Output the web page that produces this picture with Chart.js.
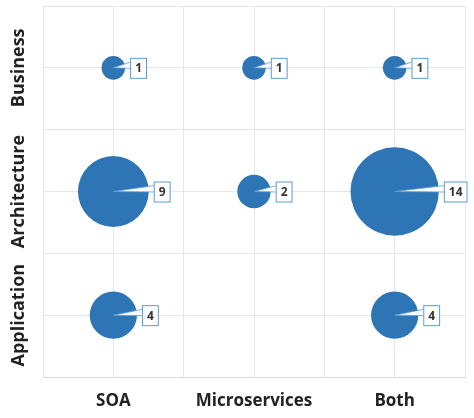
<!DOCTYPE html>
<html>
<head>
<meta charset="utf-8">
<script src="https://cdn.jsdelivr.net/npm/chart.js@4"></script>
<style>
  html, body { margin: 0; padding: 0; background: #fff; }
  #wrap { width: 474px; height: 418px; }
</style>
</head>
<body>
<div id="wrap"><canvas id="chart"></canvas></div>
<script>
"use strict";

// categories
var xLabels = ["SOA", "Microservices", "Both"];
var yLabels = ["Application", "Architecture", "Business"];

// counts per x category, in yLabels order
var soaCounts = [4, 9, 1];
var microCounts = [null, 2, 1];
var bothCounts = [4, 14, 1];

var allCounts = [soaCounts, microCounts, bothCounts];

var blue = "#2E75B6";
var labelFont = "'Open Sans', sans-serif";

// category i sits at scale position 2*i+1
function catPos(i) { return 2 * i + 1; }

var points = [];
for (var i = 0; i < xLabels.length; i++) {
	for (var j = 0; j < yLabels.length; j++) {
		var v = allCounts[i][j];
		if (v === null) continue;
		points.push({ x: catPos(i), y: catPos(j), r: 11.8 * Math.sqrt(v), v: v });
	}
}

var axisLabelPlugin = {
	id: "axisLabels",
	afterDraw: function(chart) {
		var ctx = chart.ctx;
		var xScale = chart.scales.x;
		var yScale = chart.scales.y;
		ctx.save();
		ctx.fillStyle = "#222";
		ctx.textAlign = "center";
		ctx.textBaseline = "middle";

		ctx.font = "bold 18px " + labelFont;
		for (var j = 0; j < yLabels.length; j++) {
			var py = yScale.getPixelForValue(catPos(j));
			ctx.save();
			ctx.translate(19, py);
			ctx.rotate(-Math.PI / 2);
			ctx.fillText(yLabels[j], 0, 0);
			ctx.restore();
		}

		ctx.font = "bold 17px " + labelFont;
		for (var i = 0; i < xLabels.length; i++) {
			var px = xScale.getPixelForValue(catPos(i));
			ctx.fillText(xLabels[i], px, 401);
		}
		ctx.restore();
	}
};

var calloutPlugin = {
	id: "callouts",
	afterDatasetsDraw: function(chart) {
		var ctx = chart.ctx;
		var meta = chart.getDatasetMeta(0);
		ctx.save();
		ctx.font = "bold 12px " + labelFont;
		meta.data.forEach(function(el, k) {
			var p = points[k];
			var cx = el.x, cy = el.y;
			var text = String(p.v);
			var w = ctx.measureText(text).width + 9;
			var h = 20;
			var left = cx + p.r + 5;
			var top = cy - h / 2;

			// pointer wedge
			ctx.beginPath();
			ctx.moveTo(cx, cy);
			ctx.lineTo(left + 1, cy - 6);
			ctx.lineTo(left + 1, cy + 0.5);
			ctx.closePath();
			ctx.fillStyle = "#fff";
			ctx.fill();
			ctx.strokeStyle = "#5B9BD5";
			ctx.lineWidth = 0.8;
			ctx.stroke();

			// box
			ctx.fillStyle = "#fff";
			ctx.fillRect(left, top, w, h);
			ctx.strokeStyle = "#5B9BD5";
			ctx.lineWidth = 1;
			ctx.strokeRect(left + 0.5, top + 0.5, w, h);

			ctx.fillStyle = "#333";
			ctx.textAlign = "center";
			ctx.textBaseline = "middle";
			ctx.fillText(text, left + w / 2 + 0.5, cy + 1);
		});
		ctx.restore();
	}
};

new Chart(document.getElementById("chart"), {
	type: "bubble",
	data: {
		datasets: [
			{
				label: "Count",
				data: points,
				backgroundColor: blue,
				borderColor: blue,
				borderWidth: 0,
				hoverBackgroundColor: blue,
				clip: false
			}
		]
	},
	options: {
		responsive: true,
		maintainAspectRatio: false,
		animation: false,
		layout: { autoPadding: false, padding: { top: 6, right: 9, left: 0, bottom: 0 } },
		plugins: {
			legend: { display: false },
			tooltip: { enabled: false }
		},
		scales: {
			x: {
				type: "linear",
				min: 0,
				max: 6,
				afterFit: function(scale) { scale.height = 41; },
				border: { display: true, color: "#d9d9d9" },
				grid: { color: "#e4e8ee", drawTicks: false },
				ticks: { stepSize: 1, display: false }
			},
			y: {
				type: "linear",
				min: 0,
				max: 6,
				afterFit: function(scale) { scale.width = 43; },
				border: { display: true, color: "#e4e8ee" },
				grid: { color: "#e4e8ee", drawTicks: false },
				ticks: { stepSize: 1, display: false }
			}
		}
	},
	plugins: [axisLabelPlugin, calloutPlugin]
});
</script>
</body>
</html>
